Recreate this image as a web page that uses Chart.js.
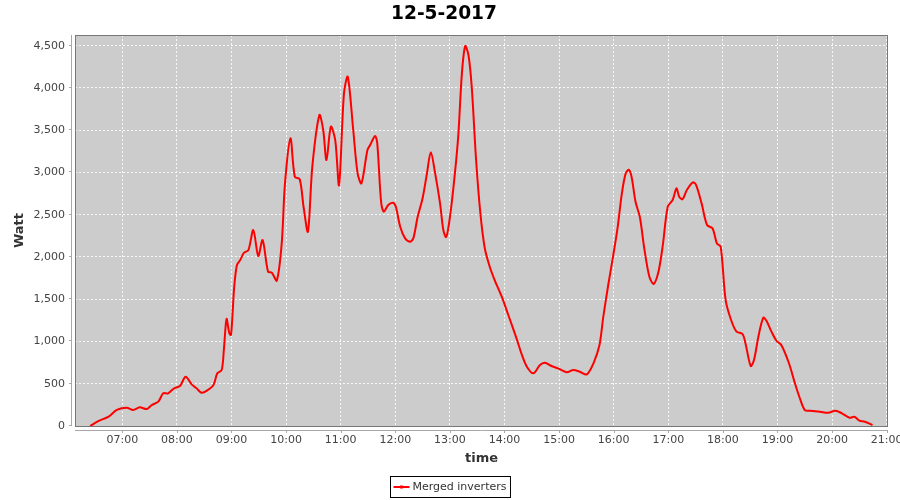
<!DOCTYPE html>
<html>
<head>
<meta charset="utf-8">
<script src="https://cdn.jsdelivr.net/npm/chart.js@4/dist/chart.umd.min.js"></script>
<style>
  html, body { margin: 0; padding: 0; background: #fff; }
  #chart { display: block; }
</style>
</head>
<body>
<canvas id="chart" width="900" height="500"></canvas>
<script>
// ---- data ----
const chartTitle = '12-5-2017'
const seriesLabel = 'Merged inverters'

// time of day in decimal hours
const timeHours = [
  6.41, 6.57, 6.75, 6.90, 7.08, 7.20, 7.32, 7.45, 7.54, 7.66, 7.75, 7.84, 7.94,
  8.06, 8.16, 8.27, 8.36, 8.45, 8.55, 8.67, 8.74, 8.82, 8.86, 8.91, 8.96, 8.99,
  9.02, 9.05, 9.10, 9.16, 9.23, 9.31, 9.40, 9.49, 9.57, 9.67, 9.74, 9.83, 9.92, 9.98,
  10.08, 10.16, 10.25, 10.32, 10.40, 10.48, 10.61, 10.68, 10.74, 10.82, 10.90, 10.97,
  11.06, 11.13, 11.23, 11.31, 11.38, 11.49, 11.54, 11.63, 11.67, 11.74, 11.79, 11.87, 11.96,
  12.01, 12.09, 12.18, 12.27, 12.33, 12.41, 12.50, 12.58, 12.65, 12.73, 12.82, 12.88, 12.93, 12.98,
  13.06, 13.15, 13.22, 13.28, 13.34, 13.40, 13.48, 13.56, 13.64, 13.73, 13.82, 13.95,
  14.07, 14.22, 14.32, 14.41, 14.53, 14.65, 14.74, 14.86, 14.98,
  15.14, 15.26, 15.38, 15.51, 15.63, 15.74, 15.81, 15.90, 15.98,
  16.07, 16.15, 16.22, 16.28, 16.33, 16.40, 16.48, 16.56, 16.65, 16.73, 16.82, 16.90, 16.99,
  17.08, 17.15, 17.20, 17.26, 17.34, 17.45, 17.51, 17.61, 17.71, 17.81, 17.89, 17.96,
  18.05, 18.15, 18.25, 18.36, 18.42, 18.51, 18.57, 18.65, 18.74, 18.80, 18.89, 18.98,
  19.07, 19.21, 19.32, 19.41, 19.50, 19.60, 19.78, 19.93,
  20.06, 20.18, 20.32, 20.41, 20.50, 20.60, 20.74
]

// power in watt, one value per time above
const watts = [
  0, 60, 110, 190, 217, 190, 221, 201, 248, 288, 387, 387, 441,
  477, 583, 493, 446, 394, 418, 485, 623, 662, 899, 1266, 1097, 1077,
  1333, 1648, 1905, 1964, 2050, 2082, 2319, 2011, 2200, 1825, 1814, 1720, 2161, 2871,
  3403, 2949, 2918, 2594, 2299, 3067, 3679, 3502, 3147, 3541, 3383, 2851,
  3936, 4132, 3502, 2989, 2871, 3265, 3324, 3431, 3344, 2653, 2535, 2614, 2642,
  2594, 2358, 2220, 2180, 2220, 2476, 2694, 2989, 3238, 2989, 2634, 2319, 2235, 2378,
  2792, 3403, 4172, 4495, 4390, 4014, 3147, 2506, 2100, 1885, 1727, 1530,
  1313, 1037, 840, 702, 623, 722, 749, 710, 682,
  635, 662, 642, 611, 742, 958, 1293, 1668, 1974,
  2339, 2753, 2989, 3030, 2940, 2653, 2470, 2102, 1775, 1680, 1825, 2141, 2594,
  2674, 2812, 2713, 2682, 2792, 2883, 2851, 2634, 2378, 2339, 2161, 2121,
  1491, 1254, 1116, 1088, 958, 710, 781, 1057, 1281, 1242, 1116, 1009,
  958, 742, 505, 328, 189, 181, 169, 157,
  181, 150, 98, 110, 63, 51, 12
]

const hourTicks = [7, 8, 9, 10, 11, 12, 13, 14, 15, 16, 17, 18, 19, 20, 21]
const wattTicks = [0, 500, 1000, 1500, 2000, 2500, 3000, 3500, 4000, 4500]

// axis ranges as shown in the reference
const xMin = 6.134
const xMax = 21.024
const yMax = 4626

const points = timeHours.map((t, i) => ({ x: t, y: watts[i] }))

const fmtHour = v => String(Math.floor(v)).padStart(2, '0') + ':00'
const tickFont = { family: 'DejaVu Sans', size: 11 }
const axisTitleFont = { family: 'DejaVu Sans', size: 13, weight: 'bold' }

// plot background, offset axes and legend box (JFreeChart look)
const frame = {
  id: 'frame',
  beforeDraw(chart) {
    const { ctx, chartArea: a } = chart
    ctx.save()
    ctx.fillStyle = '#ffffff'
    ctx.fillRect(0, 0, chart.width, chart.height)
    ctx.fillStyle = '#cccccc'
    ctx.fillRect(a.left, a.top, a.right - a.left, a.bottom - a.top)
    ctx.restore()
  },
  afterDraw(chart) {
    const { ctx, chartArea: a, scales } = chart
    const x = scales.x, y = scales.y
    ctx.save()
    // plot outline
    ctx.strokeStyle = '#777777'
    ctx.lineWidth = 1
    ctx.strokeRect(a.left + 0.5, a.top + 0.5, a.right - a.left - 1, a.bottom - a.top)

    // axis lines, 4px away from the plot
    ctx.strokeStyle = '#a8a8a8'
    ctx.beginPath()
    const ax = a.left - 3.5
    ctx.moveTo(ax, a.top)
    ctx.lineTo(ax, a.bottom)
    y.ticks.forEach(t => {
      const py = Math.round(y.getPixelForValue(t.value)) - 0.5
      ctx.moveTo(ax - 2.5, py)
      ctx.lineTo(ax, py)
    })
    const ay = a.bottom + 4.5
    ctx.moveTo(a.left, ay)
    ctx.lineTo(a.right, ay)
    x.ticks.forEach(t => {
      const px = Math.round(x.getPixelForValue(t.value)) + 0.5
      ctx.moveTo(px, ay)
      ctx.lineTo(px, ay + 2.5)
    })
    ctx.stroke()

    // legend
    const label = chart.data.datasets[0].label
    ctx.font = '11px "DejaVu Sans"'
    const tw = ctx.measureText(label).width
    const boxW = 3 + 16 + 3 + tw + 4
    const left = Math.round(450 - boxW / 2) + 0.5
    const top = 476.5, boxH = 21
    ctx.strokeStyle = '#000000'
    ctx.strokeRect(left, top, boxW, boxH)
    const ly = top + boxH / 2
    ctx.strokeStyle = '#ff0000'
    ctx.lineWidth = 2
    ctx.beginPath()
    ctx.moveTo(left + 3, ly)
    ctx.lineTo(left + 19, ly)
    ctx.stroke()
    ctx.fillStyle = '#ff0000'
    ctx.fillRect(left + 9.5, ly - 1.5, 3, 3)
    ctx.fillStyle = '#333333'
    ctx.textBaseline = 'middle'
    ctx.textAlign = 'left'
    ctx.fillText(label, left + 22, ly + 0.5)
    ctx.restore()
  }
}

new Chart(document.getElementById('chart'), {
  type: 'line',
  data: {
    datasets: [{
      label: seriesLabel,
      data: points,
      borderColor: '#ff0000',
      backgroundColor: '#ff0000',
      borderWidth: 2,
      pointRadius: 0,
      tension: 0.3,
      fill: false
    }]
  },
  options: {
    responsive: false,
    animation: false,
    devicePixelRatio: 1,
    layout: { padding: { left: 0, right: 12, top: 0, bottom: 28 } },
    plugins: {
      legend: { display: false },
      tooltip: { enabled: false },
      title: {
        display: true,
        text: chartTitle,
        color: '#000000',
        font: { family: 'DejaVu Sans', size: 18.6, weight: 'bold', lineHeight: 1.2 },
        padding: { top: 3.5, bottom: 9.2 }
      }
    },
    scales: {
      x: {
        type: 'linear',
        min: xMin,
        max: xMax,
        afterBuildTicks: s => { s.ticks = hourTicks.map(v => ({ value: v })) },
        afterFit: s => { s.height = 46; s.paddingLeft = 0; s.paddingRight = 0 },
        ticks: {
          autoSkip: false,
          maxRotation: 0,
          padding: 8,
          color: '#444444',
          font: tickFont,
          callback: v => fmtHour(v)
        },
        grid: { color: 'rgba(255,255,255,0.85)', lineWidth: 1, drawTicks: false },
        border: { display: false, dash: [2, 2] },
        title: {
          display: true,
          text: 'time',
          color: '#333333',
          font: axisTitleFont,
          padding: { top: 0, bottom: 6 }
        }
      },
      y: {
        type: 'linear',
        min: 0,
        max: yMax,
        afterBuildTicks: s => { s.ticks = wattTicks.map(v => ({ value: v })) },
        afterFit: s => { s.width = 75; s.paddingTop = 0; s.paddingBottom = 0 },
        ticks: {
          padding: 10,
          color: '#444444',
          font: tickFont,
          callback: v => v.toLocaleString('en-US')
        },
        grid: { color: 'rgba(255,255,255,0.85)', lineWidth: 1, drawTicks: false },
        border: { display: false, dash: [2, 2] },
        title: {
          display: true,
          text: 'Watt',
          color: '#333333',
          font: axisTitleFont,
          padding: { top: 12, bottom: 0 }
        }
      }
    }
  },
  plugins: [frame]
})
</script>
</body>
</html>
